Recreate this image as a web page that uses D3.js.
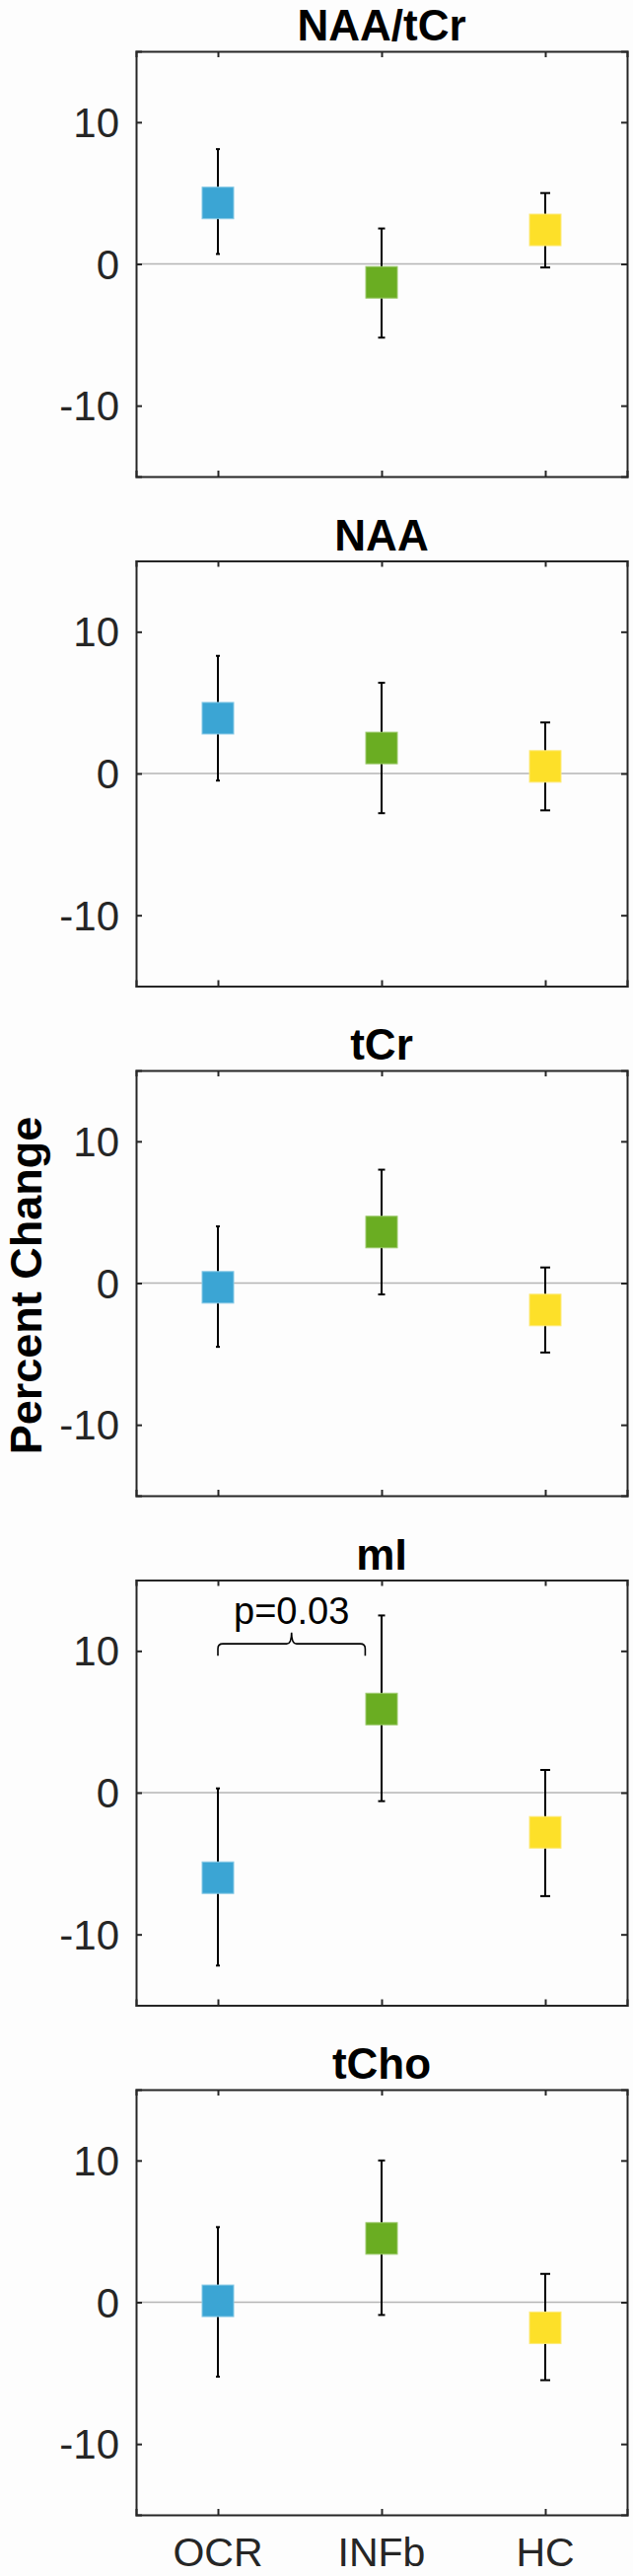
<!DOCTYPE html>
<html>
<head>
<meta charset="utf-8">
<script src="https://cdn.jsdelivr.net/npm/d3@7"></script>
<style>
  html, body { margin: 0; padding: 0; background: #fdfdfd; }
  svg { display: block; font-family: "Liberation Sans", Arial, sans-serif; }
</style>
</head>
<body>
<div id="chart"></div>
<script>
// values (percent change per group)
const groups = ["OCR", "INFb", "HC"];
const metabolites = ["NAA/tCr", "NAA", "tCr", "mI", "tCho"];
const means = [
    [4.3, -1.3, 2.4],
    [3.9, 1.8, 0.5],
    [-0.3, 3.6, -1.9],
    [-6.0, 5.9, -2.8],
    [0.1, 4.5, -1.8]
];
const upper = [
    [8.1, 2.5, 5.0],
    [8.3, 6.4, 3.6],
    [4.0, 8.0, 1.1],
    [0.3, 12.5, 1.6],
    [5.3, 10.0, 2.0]
];
const lower = [
    [0.7, -5.2, -0.25],
    [-0.5, -2.8, -2.6],
    [-4.5, -0.8, -4.9],
    [-12.2, -0.6, -7.3],
    [-5.25, -0.9, -5.5]
];
const yTicks = [-10, 0, 10];
const yDomain = [-15, 15];
// significance bracket on the mI panel
const brackets = [{ panel: 3, from: 1, to: 1.9, y: 10.5, label: "p=0.03" }];

const colors = ["#3ba5d4", "#6aad22", "#fde029"];
const edgeColors = ["#86c9e6", "#9bc96a", "#fdea7a"];
const capWidths = [4, 7, 10];

const width = 642, height = 2611;
const left = 138, right = 636;
const firstTop = 52, panelH = 431, step = 516.5;
const box = 32;
const axisColor = "#262626";

const svg = d3.select("#chart").append("svg")
    .attr("width", width)
    .attr("height", height);

svg.append("rect").attr("width", width).attr("height", height).attr("fill", "#fdfdfd");

const x = d3.scaleLinear().domain([0.5, 3.5]).range([left, right]);

metabolites.forEach((name, i) => {
    const top = firstTop + i * step;
    const y = d3.scaleLinear().domain(yDomain).range([top + panelH, top]);
    const g = svg.append("g");

    // zero reference line
    g.append("line")
        .attr("x1", left).attr("x2", right)
        .attr("y1", y(0)).attr("y2", y(0))
        .attr("stroke", "#b5b5b5").attr("stroke-width", 1.6);

    // axes box with inward ticks on all sides
    const yLeft = d3.axisRight(y).tickValues(yTicks).tickSize(6).tickFormat("");
    const yRight = d3.axisLeft(y).tickValues(yTicks).tickSize(6).tickFormat("");
    const xBottom = d3.axisTop(x).tickValues([1, 2, 3]).tickSize(6).tickFormat("");
    const xTop = d3.axisBottom(x).tickValues([1, 2, 3]).tickSize(6).tickFormat("");

    [[yLeft, `translate(${left},0)`], [yRight, `translate(${right},0)`],
     [xBottom, `translate(0,${top + panelH})`], [xTop, `translate(0,${top})`]]
        .forEach(([ax, tr]) => {
            const a = g.append("g").attr("transform", tr).call(ax);
            a.select(".domain").attr("stroke", axisColor).attr("stroke-width", 2);
            a.selectAll(".tick line").attr("stroke", axisColor).attr("stroke-width", 2);
        });

    // y tick labels
    g.selectAll(".ylab")
        .data(yTicks)
        .enter()
        .append("text")
        .attr("x", left - 17)
        .attr("y", d => y(d))
        .attr("dy", "0.36em")
        .attr("text-anchor", "end")
        .attr("font-size", 42)
        .attr("fill", axisColor)
        .text(d => d);

    // title
    g.append("text")
        .attr("x", (left + right) / 2)
        .attr("y", top - 11)
        .attr("text-anchor", "middle")
        .attr("font-size", 44)
        .attr("font-weight", "bold")
        .attr("fill", "#000")
        .text(name);

    const rows = groups.map((grp, j) => ({
        j: j,
        mean: means[i][j],
        hi: upper[i][j],
        lo: lower[i][j]
    }));

    // error bars
    const eb = g.selectAll(".eb").data(rows).enter().append("g");
    eb.append("line")
        .attr("x1", d => x(d.j + 1)).attr("x2", d => x(d.j + 1))
        .attr("y1", d => y(d.hi)).attr("y2", d => y(d.lo))
        .attr("stroke", "#000").attr("stroke-width", 2);
    ["hi", "lo"].forEach(k => {
        eb.append("line")
            .attr("x1", d => x(d.j + 1) - capWidths[d.j] / 2)
            .attr("x2", d => x(d.j + 1) + capWidths[d.j] / 2)
            .attr("y1", d => y(d[k])).attr("y2", d => y(d[k]))
            .attr("stroke", "#000").attr("stroke-width", 2);
    });

    // square markers
    g.selectAll(".mk").data(rows).enter().append("rect")
        .attr("x", d => x(d.j + 1) - box / 2)
        .attr("y", d => y(d.mean) - box / 2)
        .attr("width", box)
        .attr("height", box)
        .attr("fill", d => colors[d.j])
        .attr("stroke", d => edgeColors[d.j])
        .attr("stroke-width", 1);

    // significance brackets
    brackets.filter(b => b.panel === i).forEach(b => {
        const xl = x(b.from), xr = x(b.to), xc = (xl + xr) / 2;
        const yh = y(b.y), ye = y(b.y - 0.85), yt = y(b.y + 0.8);
        const r = 5;
        const p = d3.path();
        p.moveTo(xl, ye);
        p.lineTo(xl, yh + r);
        p.quadraticCurveTo(xl, yh, xl + r, yh);
        p.lineTo(xc - r, yh);
        p.quadraticCurveTo(xc, yh, xc, yt);
        p.quadraticCurveTo(xc, yh, xc + r, yh);
        p.lineTo(xr - r, yh);
        p.quadraticCurveTo(xr, yh, xr, yh + r);
        p.lineTo(xr, ye);
        g.append("path")
            .attr("d", p.toString())
            .attr("fill", "none")
            .attr("stroke", "#000")
            .attr("stroke-width", 1.6);
        g.append("text")
            .attr("x", xc)
            .attr("y", y(b.y + 1.4))
            .attr("text-anchor", "middle")
            .attr("font-size", 38)
            .attr("fill", "#000")
            .text(b.label);
    });

    // category labels only under the last panel
    if (i === metabolites.length - 1) {
        g.selectAll(".xlab").data(groups).enter().append("text")
            .attr("x", (d, j) => x(j + 1))
            .attr("y", top + panelH + 52)
            .attr("text-anchor", "middle")
            .attr("font-size", 41)
            .attr("fill", axisColor)
            .text(d => d);
    }
});

// shared y label
svg.append("text")
    .attr("transform", `translate(41.5,1303) rotate(-90)`)
    .attr("text-anchor", "middle")
    .attr("font-size", 45)
    .attr("font-weight", "bold")
    .attr("fill", "#000")
    .text("Percent Change");
</script>
</body>
</html>
